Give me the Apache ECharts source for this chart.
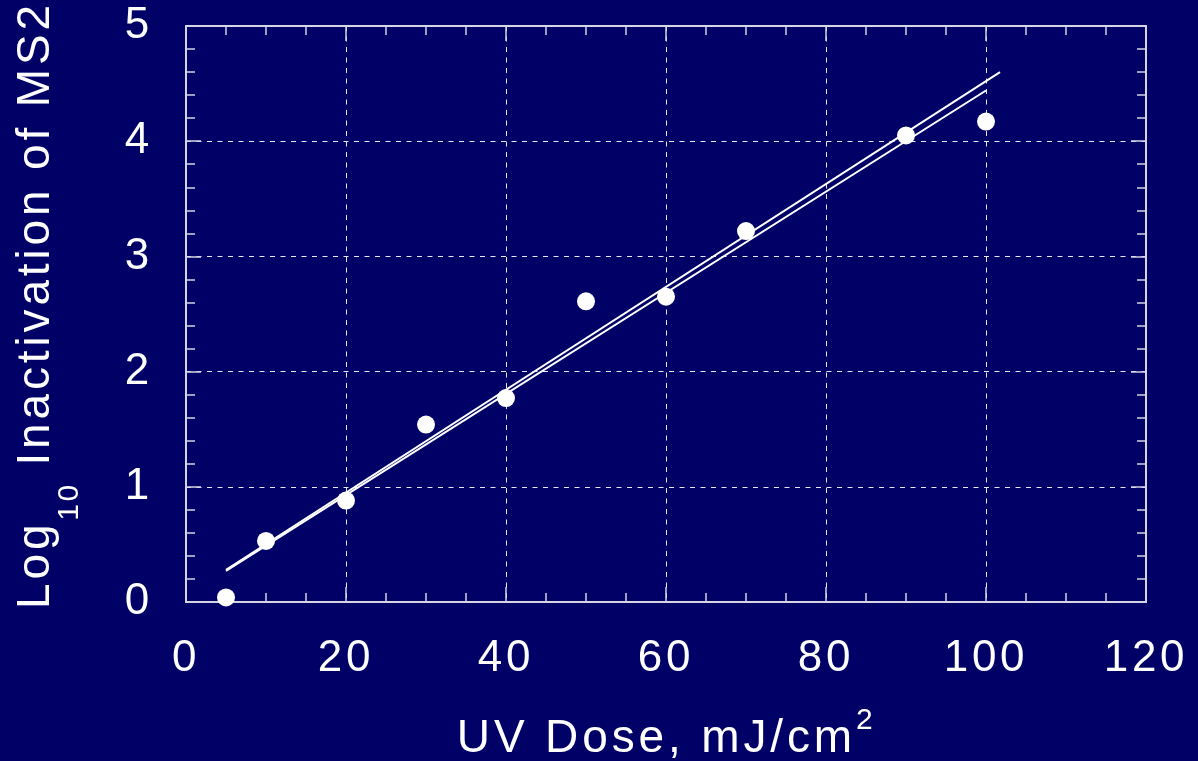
<!DOCTYPE html>
<html>
<head>
<meta charset="utf-8">
<title>MS2 UV inactivation</title>
<script src="https://cdn.jsdelivr.net/npm/echarts@6/dist/echarts.min.js"></script>
<style>
  html, body { margin: 0; padding: 0; background: #000066; }
  #chart { width: 1198px; height: 761px; }
</style>
</head>
<body>
<div id="chart"></div>
<script>
// Wider tracking for every piece of chart text (canvas letterSpacing scaled to font size).
(function () {
  const desc = Object.getOwnPropertyDescriptor(CanvasRenderingContext2D.prototype, 'font');
  if (desc && desc.set) {
    Object.defineProperty(CanvasRenderingContext2D.prototype, 'font', {
      configurable: true,
      get() { return desc.get.call(this); },
      set(v) {
        desc.set.call(this, v);
        const m = /(\d+(?:\.\d+)?)px/.exec(String(v));
        const size = m ? parseFloat(m[1]) : 12;
        try { this.letterSpacing = (size * 0.084).toFixed(2) + 'px'; } catch (e) {}
      }
    });
  }
})();

// Measured MS2 inactivation vs. UV dose
const doseValues = [5, 10, 20, 30, 40, 50, 60, 70, 90, 100];
const logInactivation = [0.04, 0.53, 0.88, 1.54, 1.77, 2.61, 2.65, 3.22, 4.05, 4.17];

// Two linear fits (end points)
const fitAX = [5, 101.75];
const fitAY = [0.28, 4.60];
const fitBX = [5, 100];
const fitBY = [0.27, 4.44];

// Axis ranges and ticks
const xTicks = { min: 0, max: 120, interval: 20 };
const yTicks = { min: 0, max: 5, interval: 1 };

const pairs = (xs, ys) => xs.map((x, i) => [x, ys[i]]);

const FONT = 'Liberation Sans, Arial, sans-serif';
const FRAME = '#d4d4e4';
const GRID = '#e8e8f4';

function axisCommon(extra) {
  return Object.assign({
    type: 'value',
    axisLine: { show: true, onZero: false, lineStyle: { color: FRAME, width: 2 } },
    axisTick: { show: true, inside: true, length: 15, lineStyle: { color: FRAME, width: 1.5 } },
    minorTick: { show: true, length: 9, lineStyle: { color: FRAME, width: 1.5 } },
    splitLine: { show: false },
    minorSplitLine: { show: false }
  }, extra);
}

const chart = echarts.init(document.getElementById('chart'), null, { renderer: 'canvas' });

chart.setOption({
  backgroundColor: '#000066',
  animation: false,
  textStyle: { fontFamily: FONT },
  grid: { left: 186, top: 26, right: 52, bottom: 159, containLabel: false, outerBoundsMode: 'none' },
  xAxis: [
    axisCommon({
      position: 'bottom',
      min: xTicks.min, max: xTicks.max, interval: xTicks.interval,
      minorTick: { show: true, splitNumber: 4, length: 9, lineStyle: { color: FRAME, width: 1.5 } },
      axisLabel: { color: '#ffffff', fontSize: 44, fontFamily: FONT, margin: 33 },
      splitLine: { show: true, lineStyle: { color: GRID, width: 1, type: [5, 5.5] } },
      name: 'UV Dose, mJ/cm{sup|2}',
      nameLocation: 'middle',
      nameGap: 102,
      nameTextStyle: {
        color: '#ffffff', fontSize: 46, fontFamily: FONT,
        rich: { sup: { color: '#ffffff', fontSize: 30, fontFamily: FONT, padding: [0, 0, 38, 0] } }
      }
    }),
    axisCommon({
      position: 'top',
      min: xTicks.min, max: xTicks.max, interval: xTicks.interval,
      minorTick: { show: true, splitNumber: 4, length: 9, lineStyle: { color: FRAME, width: 1.5 } },
      axisLabel: { show: false }
    })
  ],
  yAxis: [
    axisCommon({
      position: 'left',
      min: yTicks.min, max: yTicks.max, interval: yTicks.interval,
      minorTick: { show: true, splitNumber: 5, length: 9, lineStyle: { color: FRAME, width: 1.5 } },
      axisLabel: { color: '#ffffff', fontSize: 44, fontFamily: FONT, margin: 33 },
      splitLine: { show: true, lineStyle: { color: GRID, width: 1, type: [5, 5.5] } },
      name: 'Log{sub|10} Inactivation of MS2',
      nameLocation: 'middle',
      nameRotate: 90,
      nameGap: 100,
      nameTextStyle: {
        color: '#ffffff', fontSize: 46, fontFamily: FONT,
        padding: [0, 0, 0, 18],
        rich: { sub: { color: '#ffffff', fontSize: 30, fontFamily: FONT, padding: [66, 0, 0, 0] } }
      }
    }),
    axisCommon({
      position: 'right',
      min: yTicks.min, max: yTicks.max, interval: yTicks.interval,
      minorTick: { show: true, splitNumber: 5, length: 9, lineStyle: { color: FRAME, width: 1.5 } },
      axisLabel: { show: false }
    })
  ],
  series: [
    {
      type: 'line', data: pairs(fitAX, fitAY), showSymbol: false, symbol: 'none',
      lineStyle: { color: '#ffffff', width: 2 }, z: 3, silent: true
    },
    {
      type: 'line', data: pairs(fitBX, fitBY), showSymbol: false, symbol: 'none',
      lineStyle: { color: '#ffffff', width: 2 }, z: 3, silent: true
    },
    {
      type: 'scatter', data: pairs(doseValues, logInactivation),
      symbol: 'circle', symbolSize: 18,
      itemStyle: { color: '#ffffff', opacity: 1 }, z: 4, silent: true
    }
  ]
});
</script>
</body>
</html>
